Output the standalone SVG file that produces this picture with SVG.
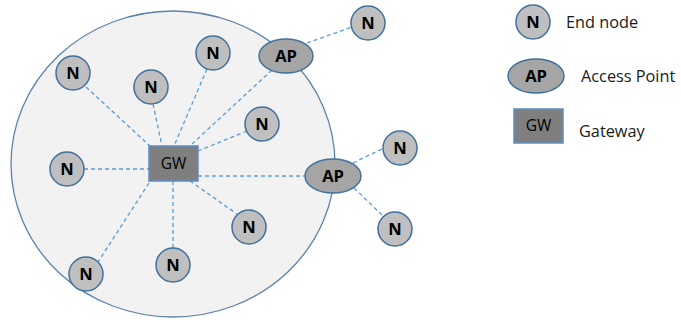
<svg xmlns="http://www.w3.org/2000/svg" width="681" height="320" viewBox="0 0 681 320">
  <style>
    .node { fill: #bfbfbf; stroke: #41719c; stroke-width: 1.5; }
    .ap { fill: #a5a5a5; stroke: #41719c; stroke-width: 1.5; }
    .gw { fill: #7f7f7f; stroke: #5b8fc7; stroke-width: 1.5; }
    .lbl { font-family: "Open Sans", "Liberation Sans", sans-serif; font-weight: bold; font-size: 16.5px; fill: #000; text-anchor: middle; }
    .gwlbl { font-family: "Open Sans", "Liberation Sans", sans-serif; font-size: 15.5px; fill: #000; text-anchor: middle; }
    .legend { font-family: "Open Sans", "Liberation Sans", sans-serif; font-size: 16.3px; fill: #1a1a1a; }
    .link { stroke: #5b9bd5; stroke-width: 1.3; stroke-dasharray: 4 3; fill: none; }
  </style>
  <rect width="681" height="320" fill="#ffffff"/>

  <!-- coverage area -->
  <ellipse id="coverage" cx="173" cy="164" rx="162" ry="153" fill="#f2f2f2" stroke="#5b82ab" stroke-width="1.3"/>

  <g id="connectors">
    <line class="link" x1="86" y1="87" x2="150" y2="146"/>
    <line class="link" x1="153" y1="104" x2="162" y2="146"/>
    <line class="link" x1="207" y1="69" x2="174" y2="146"/>
    <line class="link" x1="272" y1="70" x2="190" y2="146"/>
    <line class="link" x1="247" y1="131" x2="198" y2="151"/>
    <line class="link" x1="84" y1="169" x2="149" y2="169"/>
    <line class="link" x1="149" y1="183" x2="98" y2="262"/>
    <line class="link" x1="173" y1="181" x2="173" y2="249"/>
    <line class="link" x1="190" y1="181" x2="237" y2="214"/>
    <line class="link" x1="198" y1="176" x2="305" y2="176"/>
    <line class="link" x1="307" y1="43" x2="352" y2="27"/>
    <line class="link" x1="353" y1="163" x2="384" y2="148"/>
    <line class="link" x1="354" y1="188" x2="383" y2="216"/>
  </g>

  <g id="gw">
    <rect class="gw" x="149" y="146" width="49" height="35"/>
    <text class="gwlbl" x="173.5" y="169">GW</text>
  </g>

  <g id="n1"><circle class="node" cx="73" cy="73" r="17"/><text class="lbl" x="73" y="79">N</text></g>
  <g id="n2"><circle class="node" cx="151" cy="87" r="17"/><text class="lbl" x="151" y="93">N</text></g>
  <g id="n3"><circle class="node" cx="213" cy="53" r="17"/><text class="lbl" x="213" y="59">N</text></g>
  <g id="n4"><circle class="node" cx="262" cy="124" r="17"/><text class="lbl" x="262" y="130">N</text></g>
  <g id="n5"><circle class="node" cx="67" cy="169" r="17"/><text class="lbl" x="67" y="175">N</text></g>
  <g id="n6"><circle class="node" cx="86" cy="274" r="17"/><text class="lbl" x="86" y="280">N</text></g>
  <g id="n7"><circle class="node" cx="173" cy="265" r="17"/><text class="lbl" x="173" y="271">N</text></g>
  <g id="n8"><circle class="node" cx="249" cy="227" r="17"/><text class="lbl" x="249" y="233">N</text></g>

  <g id="ap1"><ellipse class="ap" cx="286" cy="56" rx="27" ry="17"/><text class="lbl" x="286" y="62">AP</text></g>
  <g id="ap2"><ellipse class="ap" cx="333" cy="176" rx="28" ry="17"/><text class="lbl" x="333" y="182">AP</text></g>

  <g id="n9"><circle class="node" cx="368" cy="23" r="17"/><text class="lbl" x="368" y="29">N</text></g>
  <g id="n10"><circle class="node" cx="400" cy="148" r="17"/><text class="lbl" x="400" y="154">N</text></g>
  <g id="n11"><circle class="node" cx="395" cy="229" r="17"/><text class="lbl" x="395" y="235">N</text></g>

  <g id="legend">
    <g id="legend-node"><circle class="node" cx="533" cy="22" r="17"/><text class="lbl" x="533" y="28">N</text>
      <text class="legend" x="566" y="28">End node</text></g>
    <g id="legend-ap"><ellipse class="ap" cx="536" cy="76" rx="28" ry="17"/><text class="lbl" x="536" y="82">AP</text>
      <text class="legend" x="581" y="82">Access Point</text></g>
    <g id="legend-gw"><rect class="gw" x="514" y="109" width="49" height="34"/><text class="gwlbl" x="538.5" y="131">GW</text>
      <text class="legend" x="579" y="137">Gateway</text></g>
  </g>
</svg>
